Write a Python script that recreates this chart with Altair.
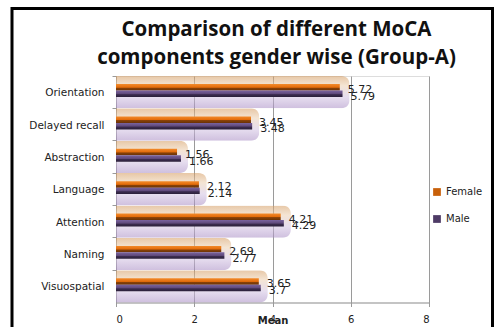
import altair as alt
import pandas as pd

categories = ["Orientation", "Delayed recall", "Abstraction", "Language", "Attention", "Naming", "Visuospatial"]
female = [5.72, 3.45, 1.56, 2.12, 4.21, 2.69, 3.65]
male = [5.79, 3.48, 1.66, 2.14, 4.29, 2.77, 3.7]
genders = ["Female", "Male"]
x_ticks = [0, 2, 4, 6, 8]

rows = []
for c, f, m in zip(categories, female, male):
    rows.append({"cat": c, "gender": "Female", "value": f, "label": str(f)})
    rows.append({"cat": c, "gender": "Male", "value": m, "label": str(m)})
df = pd.DataFrame(rows)
glow = pd.DataFrame({"cat": categories, "end": [max(f, m) + 0.18 for f, m in zip(female, male)]})

FONT = "DejaVu Sans"
W, H = 313, 226.5

y_enc = alt.Y("cat:N", sort=categories, title=None,
              scale=alt.Scale(paddingInner=0, paddingOuter=0),
              axis=alt.Axis(labelFont=FONT, labelFontSize=10.5, labelColor="#222222",
                            domainColor="#9a9a9a", tickColor="#9a9a9a", tickSize=4,
                            labelPadding=8, labelOffset=1, bandPosition=0))
yoff = alt.YOffset("gender:N",
                   scale=alt.Scale(domain=["_a", "Female", "Male", "_b"], paddingInner=0,
                                   paddingOuter=0.5, align=0.25))
x_enc = alt.X("value:Q", title="Mean",
              scale=alt.Scale(domain=[0, 8], nice=False),
              axis=alt.Axis(values=x_ticks, labelFont=FONT, labelFontSize=10, labelColor="#222222",
                            domainColor="#9a9a9a", tickColor="#9a9a9a", tickSize=4,
                            gridColor="#9a9a9a", grid=True, labelPadding=8,
                            titleFont=FONT, titleFontSize=10, titleFontWeight="bold",
                            titleColor="#222222", titleBaseline="alphabetic", titleY=21))

glow_layer = alt.Chart(glow).mark_bar(
    opacity=0.55, cornerRadiusEnd=8,
    color=alt.Gradient(gradient="linear", x1=0, y1=0, x2=0, y2=1,
                       stops=[alt.GradientStop(offset=0, color="#D49A5E"),
                              alt.GradientStop(offset=0.3, color="#EBCFB0"),
                              alt.GradientStop(offset=0.65, color="#D2C2E2"),
                              alt.GradientStop(offset=1, color="#A88CC4")])
).encode(
    y=alt.Y("cat:N", sort=categories),
    x=alt.X("end:Q"),
)

def bar_layer(g, stops):
    return alt.Chart(df).transform_filter(alt.datum.gender == g).mark_bar(
        color=alt.Gradient(gradient="linear", x1=0, y1=0, x2=0, y2=1,
                           stops=[alt.GradientStop(offset=o, color=c) for o, c in stops])
    ).encode(y=y_enc, yOffset=yoff, x=x_enc)

female_bar = bar_layer("Female", [(0, "#F28B2C"), (0.5, "#E46C0A"), (0.62, "#8A4207"), (1, "#6A3205")])
male_bar = bar_layer("Male", [(0, "#7A64A0"), (0.5, "#5F497A"), (0.62, "#3B2C50"), (1, "#2A1F38")])

labels = alt.Chart(df).mark_text(
    align="left", baseline="middle", dx=8, dy=3, font=FONT, fontSize=11, color="#222222"
).encode(y=alt.Y("cat:N", sort=categories), yOffset=yoff, x=alt.X("value:Q"), text="label:N")

legend_layer = alt.Chart(df).mark_square(opacity=0, size=1).encode(
    color=alt.Color("gender:N", sort=genders, title=None,
                    scale=alt.Scale(domain=genders, range=["#C8600A", "#4E3B66"]),
                    legend=alt.Legend(orient="none", legendX=316, legendY=111,
                                      symbolType="square", symbolSize=60, symbolOpacity=1,
                                      symbolStrokeWidth=0, rowPadding=17,
                                      labelFont=FONT, labelFontSize=10, labelColor="#222222"))
)

frame = alt.Chart(pd.DataFrame({"a": [0]})).mark_rect(
    fill=None, stroke="black", strokeWidth=3, clip=False
).encode(x=alt.value(-104), x2=alt.value(376.5), y=alt.value(-67.5), y2=alt.value(258))

chart = alt.layer(glow_layer, female_bar, male_bar, labels, legend_layer, frame).properties(
    width=W, height=H,
    title=alt.TitleParams(["Comparison of different MoCA", "components gender wise (Group-A)"],
                          font="Open Sans", fontSize=20.5, fontWeight="bold", color="#111111",
                          lineHeight=28, anchor="middle", offset=6, dx=4, dy=67),
    padding={"left": 116, "top": 76, "right": 67, "bottom": 24.5},
    autosize=alt.AutoSizeParams(type="none"),
).configure_view(stroke=None).configure(background="white")

chart.save("out.html", embed_options={"renderer": "svg", "actions": False})
